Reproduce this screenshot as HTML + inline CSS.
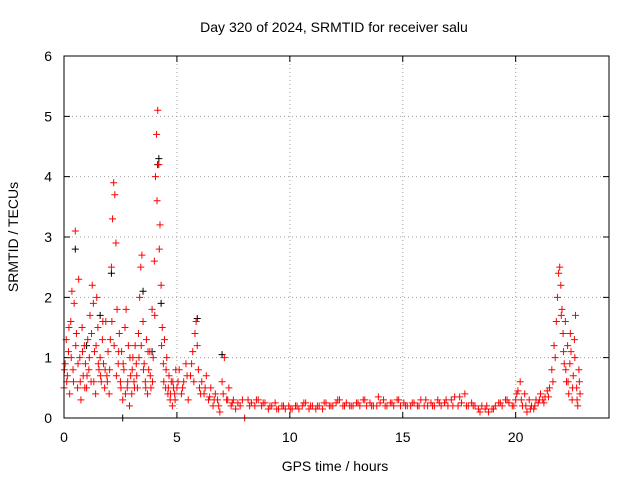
<!DOCTYPE html>
<html><head><meta charset="utf-8"><style>
body{margin:0;background:#fff}
text{font-family:"Liberation Sans",sans-serif;font-size:14px;fill:#000}
</style></head><body>
<svg id="chart" width="640" height="480" xmlns="http://www.w3.org/2000/svg">
<rect width="640" height="480" fill="#fff"/>
<text x="334" y="32" text-anchor="middle">Day 320 of 2024, SRMTID for receiver salu</text>
<text x="335" y="471" text-anchor="middle">GPS time / hours</text>
<text transform="translate(18,237) rotate(-90)" text-anchor="middle">SRMTID / TECUs</text>
<g id="grid"></g>
<g id="ticks"></g>
<g id="black"></g>
<g id="red"></g>
<rect x="64" y="56" width="545" height="362" fill="none" stroke="#000" stroke-width="1"/>
</svg>
<script>
const xTicks=[0,5,10,15,20];
const yTicks=[0,1,2,3,4,5,6];
const redT=[0.0,0.05,0.1,0.15,0.2,0.25,0.3,0.35,0.4,0.45,0.5,0.55,0.6,0.65,0.7,0.75,0.8,0.85,0.9,0.95,1.0,1.05,1.1,1.15,1.2,1.25,1.3,1.35,1.4,1.45,1.5,1.55,1.6,1.65,1.7,1.75,1.8,1.85,1.9,1.95,2.0,2.05,2.1,2.15,2.2,2.25,2.3,2.35,2.4,2.45,2.5,2.55,2.6,2.65,2.7,2.75,2.8,2.85,2.9,2.95,3.0,3.05,3.1,3.15,3.2,3.25,3.3,3.35,3.4,3.45,3.5,3.55,3.6,3.65,3.7,3.75,3.8,3.85,3.9,3.95,4.0,4.05,4.1,4.15,4.2,4.25,4.3,4.35,4.4,4.45,4.5,4.55,4.6,4.65,4.7,4.75,4.8,4.85,4.9,4.95,
0.02,0.12,0.22,0.32,0.42,0.52,0.62,0.72,0.82,0.92,1.02,1.12,1.22,1.32,1.42,1.52,1.62,1.72,1.82,1.92,2.02,2.12,2.22,2.32,2.42,2.52,2.62,2.72,2.82,2.92,3.02,3.12,3.22,3.32,3.42,3.52,3.62,3.72,3.82,3.92,4.02,4.12,4.22,4.32,4.42,4.52,4.62,4.72,4.82,4.92,
5.0,5.1,5.2,5.3,5.4,5.5,5.6,5.7,5.8,5.85,5.9,5.95,6.0,6.1,6.2,6.3,6.4,6.5,6.6,6.7,6.8,6.9,7.0,7.1,7.2,7.3,7.4,7.5,7.6,7.7,7.8,7.9,8.0,
5.05,5.25,5.45,5.65,5.75,6.05,6.25,6.45,6.65,6.85,7.05,7.25,7.45,
8.15,8.3,8.45,8.6,8.75,8.9,9.05,9.2,9.35,9.5,9.65,9.8,9.95,10.1,10.25,10.4,10.55,10.7,10.85,11.0,11.15,11.3,11.45,11.6,11.75,11.9,12.05,12.2,12.35,12.5,12.65,12.8,12.95,13.1,13.25,13.4,13.55,13.7,13.85,14.0,14.15,14.3,14.45,14.6,14.75,14.9,15.05,15.2,15.35,15.5,15.65,15.8,15.95,16.1,16.25,16.4,16.55,16.7,16.85,17.0,17.15,17.3,17.45,17.6,17.75,17.9,18.05,18.2,18.35,18.5,18.65,18.8,18.95,19.1,19.25,19.4,19.55,19.7,19.85,
8.22,8.52,8.82,9.12,9.42,9.72,10.02,10.32,10.62,10.92,11.22,11.52,11.82,12.12,12.42,12.72,13.02,13.32,13.62,13.92,14.22,14.52,14.82,15.12,15.42,15.72,16.02,16.32,16.62,16.92,17.22,17.52,17.82,18.12,18.42,18.72,19.02,19.32,19.62,19.92,
20.0,20.1,20.2,20.3,20.4,20.5,20.6,20.7,20.8,20.9,21.0,21.1,21.2,21.3,21.4,21.5,21.6,21.7,21.8,21.85,21.9,21.95,22.0,22.05,22.1,22.15,22.2,22.25,22.3,22.35,22.4,22.45,22.5,22.55,22.6,22.65,22.7,22.75,22.8,22.85,
20.05,20.25,20.45,20.65,20.85,21.05,21.25,21.45,21.65,21.75,22.02,22.12,22.22,22.32,22.42,22.52,22.62,22.72,22.82];
const redV=[0.5,0.9,1.3,0.7,1.1,0.4,1.6,2.1,0.8,1.9,3.1,1.4,0.5,2.3,1.0,0.3,1.5,0.7,1.2,0.9,0.5,1.3,0.8,1.7,0.6,2.2,1.9,1.1,0.4,2.0,1.5,0.8,1.0,0.6,1.3,0.9,0.5,1.6,0.7,1.1,0.4,1.3,2.5,3.3,3.9,3.7,2.9,1.8,0.9,1.4,0.6,1.1,0.3,0.8,1.5,1.8,0.5,1.2,0.2,0.7,0.4,1.0,0.6,1.2,0.9,0.5,1.4,2.0,2.5,2.7,1.6,0.9,0.6,1.3,0.4,0.8,1.1,0.5,1.8,1.0,2.6,4.0,4.7,5.1,4.2,3.2,2.2,1.5,0.9,1.3,0.5,1.0,0.4,0.7,0.3,0.6,0.2,0.5,0.4,0.8,
0.8,0.6,1.5,1.0,0.6,1.2,0.9,0.6,1.1,0.5,0.7,1.0,1.4,0.6,1.2,0.9,0.7,1.6,0.8,0.6,0.8,1.6,1.2,0.7,1.1,0.5,0.9,0.4,0.6,1.0,0.8,0.5,0.7,1.0,1.2,0.8,0.5,1.1,0.7,0.6,1.7,3.6,2.8,1.2,0.6,0.8,0.5,0.4,0.6,0.3,
0.5,0.8,0.4,0.6,0.9,0.3,0.7,1.1,1.4,1.6,1.2,0.8,0.5,0.6,0.4,0.7,0.3,0.5,0.2,0.4,0.3,0.1,0.6,1.0,0.3,0.5,0.2,0.3,0.15,0.25,0.2,0.3,0.0,
0.6,0.5,0.7,0.9,0.6,0.4,0.5,0.35,0.3,0.2,0.4,0.3,0.25,
0.3,0.25,0.2,0.3,0.2,0.25,0.15,0.2,0.25,0.15,0.2,0.15,0.2,0.15,0.2,0.15,0.2,0.25,0.15,0.2,0.15,0.2,0.15,0.25,0.2,0.2,0.25,0.3,0.2,0.25,0.2,0.2,0.25,0.2,0.3,0.2,0.25,0.2,0.2,0.25,0.3,0.2,0.25,0.2,0.3,0.2,0.25,0.2,0.2,0.25,0.2,0.3,0.2,0.2,0.25,0.2,0.3,0.2,0.25,0.2,0.3,0.35,0.2,0.25,0.4,0.2,0.25,0.2,0.15,0.2,0.15,0.1,0.15,0.2,0.25,0.2,0.3,0.25,0.2,
0.2,0.3,0.25,0.2,0.15,0.2,0.15,0.2,0.25,0.2,0.2,0.25,0.2,0.3,0.2,0.2,0.25,0.3,0.2,0.35,0.2,0.25,0.3,0.2,0.25,0.2,0.3,0.2,0.25,0.3,0.2,0.35,0.2,0.2,0.1,0.2,0.15,0.25,0.3,0.2,
0.3,0.45,0.6,0.2,0.4,0.1,0.3,0.2,0.15,0.3,0.25,0.4,0.3,0.35,0.45,0.5,0.8,1.2,1.6,2.0,2.4,2.5,2.2,1.8,1.4,0.9,1.6,0.6,1.2,0.4,0.9,1.1,0.3,0.7,1.3,1.7,0.5,0.2,0.8,0.4,
0.4,0.3,0.2,0.15,0.2,0.3,0.25,0.35,0.6,1.0,1.7,1.1,0.8,0.6,1.4,0.5,1.0,0.3,0.6];
const blackT=[0.5,1.0,2.1,2.6,3.5,4.15,4.2,4.3,5.9,7.0,1.6,3.9];
const blackV=[2.8,1.2,2.4,0.0,2.1,4.2,4.3,1.9,1.65,1.05,1.7,1.1];
const X0=64,X1=606,Y0=418,Y1=56;
const xs=t=>X0+(t/24)*(X1-X0);
const ys=v=>Y0-(v/6)*(Y0-Y1);
const NS='http://www.w3.org/2000/svg';
const grid=document.getElementById('grid'),ticks=document.getElementById('ticks');
xTicks.forEach(t=>{
  const x=xs(t);
  if(t>0){const l=document.createElementNS(NS,'line');
  
  
  l.setAttribute('x1',x);l.setAttribute('x2',x);l.setAttribute('y1',Y1);l.setAttribute('y2',Y0);
  l.setAttribute('stroke','#a0a0a0');l.setAttribute('stroke-dasharray','1,3');grid.appendChild(l);}
  const tx=document.createElementNS(NS,'text');
  
  
  tx.setAttribute('x',x);tx.setAttribute('y',Y0+24);tx.setAttribute('text-anchor','middle');tx.textContent=t;ticks.appendChild(tx);
  const tk=document.createElementNS(NS,'path');
  
  
  tk.setAttribute('d',`M${x},${Y0}v-6M${x},${Y1}v6`);tk.setAttribute('stroke','#000');ticks.appendChild(tk);
});
yTicks.forEach(v=>{
  const y=ys(v);
  if(v>0&&v<6){const l=document.createElementNS(NS,'line');
  
  
  l.setAttribute('x1',X0);l.setAttribute('x2',609);l.setAttribute('y1',y);l.setAttribute('y2',y);
  l.setAttribute('stroke','#a0a0a0');l.setAttribute('stroke-dasharray','1,3');grid.appendChild(l);}
  const tx=document.createElementNS(NS,'text');
  
  
  tx.setAttribute('x',X0-12);tx.setAttribute('y',y+5);tx.setAttribute('text-anchor','end');tx.textContent=v;ticks.appendChild(tx);
  const tk=document.createElementNS(NS,'path');
  
  
  tk.setAttribute('d',`M${X0},${y}h6M609,${y}h-6`);tk.setAttribute('stroke','#000');ticks.appendChild(tk);
});
function plus(g,T,V,color){
  let d='';
  for(let i=0;i<T.length;i++){const x=xs(T[i]),y=ys(V[i]);d+=`M${x-3.5},${y}h7M${x},${y-3.5}v7`;}
  const p=document.createElementNS(NS,'path');
  
  
  p.setAttribute('d',d);p.setAttribute('stroke',color);p.setAttribute('stroke-width','1');p.setAttribute('fill','none');
  g.appendChild(p);
}
plus(document.getElementById('black'),blackT,blackV,'#000');
plus(document.getElementById('red'),redT,redV,'#ff0000');
</script>
</body></html>
